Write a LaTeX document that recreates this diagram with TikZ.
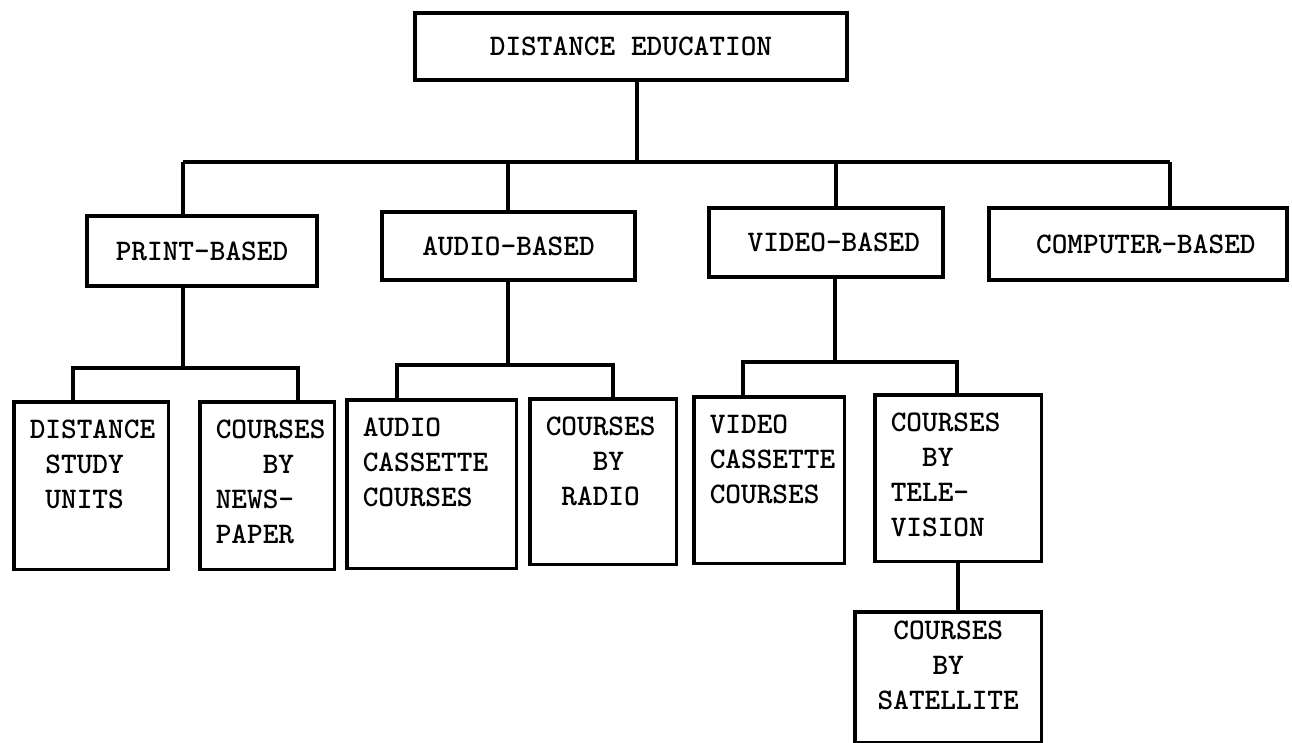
\documentclass[tikz,border=0pt]{standalone}
\usepackage{tikz}
\usetikzlibrary{positioning,calc}
\newcommand{\tsp}{\phantom{X}}
\tikzset{
  chart/.style={
    font=\fontsize{17}{19.8}\selectfont\ttfamily\bfseries
  },
  topbox/.style={
    draw,
    line width=2pt,
    inner sep=0pt
  },
  midbox/.style={
    topbox
  },
  leafbox/.style={
    draw,
    line width=2pt,
    anchor=north west,
    align=left,
    inner xsep=0.32cm,
    inner ysep=0.2cm,
    text height=0.54cm
  },
  link/.style={
    line width=2pt,
    line join=miter
  }
}

\begin{document}
\begin{tikzpicture}[x=0.02cm, y=-0.02cm, chart]
  \useasboundingbox (0,0) rectangle (1292,743);

  % Top
  \node[topbox, minimum width=8.64cm, minimum height=1.34cm] (edu) at (631,46.5) {DISTANCE EDUCATION};

  % Media
  \node[midbox, minimum width=4.6cm, minimum height=1.4cm] (print) at (202,251) {PRINT-BASED};
  \node[midbox, minimum width=5.06cm, minimum height=1.36cm] (audio) at (508.5,246) {AUDIO-BASED};
  \node[midbox, minimum width=4.68cm, minimum height=1.38cm] (video) at (826,242.5) {\tsp VIDEO-BASED};
  \node[midbox, minimum width=5.96cm, minimum height=1.44cm] (computer) at (1138,244) {\tsp COMPUTER-BASED};

  % Courses
  \node[leafbox, text width=2.46cm, text depth=2.42cm] (units) at (12,400) {DISTANCE\\\tsp STUDY\\\tsp UNITS};
  \node[leafbox, text width=2.06cm, text depth=2.42cm] (news) at (198,400) {COURSES\\\tsp\tsp\tsp BY\\NEWS-\\PAPER};
  \node[leafbox, text width=2.76cm, text depth=2.44cm] (acass) at (345,398) {AUDIO\\CASSETTE\\COURSES};
  \node[leafbox, text width=2.3cm, text depth=2.38cm] (radio) at (528,397) {COURSES\\\tsp\tsp\tsp BY\\\tsp RADIO};
  \node[leafbox, text width=2.38cm, text depth=2.4cm] (vcass) at (692,395) {VIDEO\\CASSETTE\\COURSES};
  \node[leafbox, text width=2.7cm, text depth=2.4cm] (tv) at (873,393) {COURSES\\\tsp\tsp BY\\TELE-\\VISION};
  \node[leafbox, align=center, text height=0.36cm, text width=3.1cm, text depth=1.86cm] (sat) at (853,610) {COURSES\\BY\\SATELLITE};

  % Main bar
  \coordinate (j0) at (637,162);
  \coordinate (j1) at (183,162);
  \coordinate (j2) at (508,162);
  \coordinate (j3) at (836,162);
  \coordinate (j4) at (1170,162);
  \draw[link] (edu.south -| j0) -- (j0);
  \draw[link] (j1) -- (j4);
  \foreach \j/\n in {j1/print, j2/audio, j3/video, j4/computer}
    \draw[link] (\j) -- (\j |- \n.north);

  % Sub bars
  \coordinate (pa) at (183,368);
  \coordinate (pb) at (73,368);
  \coordinate (pc) at (298,368);
  \draw[link] (print.south -| pa) -- (pa);
  \draw[link] (units.north -| pb) -- (pb) -- (pc) -- (news.north -| pc);

  \coordinate (aa) at (508,365);
  \coordinate (ab) at (397,365);
  \coordinate (ac) at (613,365);
  \draw[link] (audio.south -| aa) -- (aa);
  \draw[link] (acass.north -| ab) -- (ab) -- (ac) -- (radio.north -| ac);

  \coordinate (va) at (835,362);
  \coordinate (vb) at (743,362);
  \coordinate (vc) at (957,362);
  \draw[link] (video.south -| va) -- (va);
  \draw[link] (vcass.north -| vb) -- (vb) -- (vc) -- (tv.north -| vc);

  % Satellite
  \draw[link] (tv.south) -- (tv.south |- sat.north);

\end{tikzpicture}
\end{document}
